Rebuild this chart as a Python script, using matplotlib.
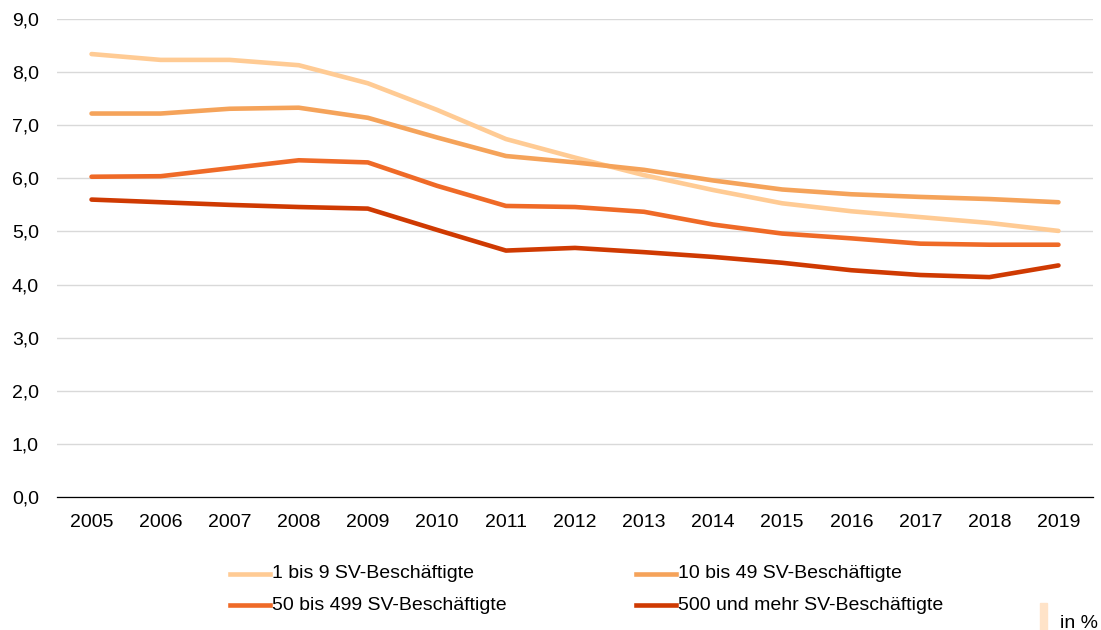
import matplotlib
matplotlib.use("Agg")
import matplotlib.pyplot as plt
from matplotlib.lines import Line2D
from matplotlib.patches import Rectangle

plt.rcParams['font.family'] = ['Liberation Sans', 'DejaVu Sans']

years = [str(y) for y in range(2005, 2020)]
labels = ["1 bis 9 SV-Beschäftigte", "10 bis 49 SV-Beschäftigte",
          "50 bis 499 SV-Beschäftigte", "500 und mehr SV-Beschäftigte"]
s1 = [8.34, 8.23, 8.23, 8.13, 7.79, 7.29, 6.74, 6.39, 6.06, 5.78, 5.53, 5.38, 5.27, 5.16, 5.01]
s2 = [7.22, 7.22, 7.31, 7.33, 7.14, 6.77, 6.42, 6.30, 6.16, 5.96, 5.79, 5.70, 5.65, 5.61, 5.55]
s3 = [6.03, 6.04, 6.19, 6.34, 6.30, 5.86, 5.48, 5.46, 5.37, 5.13, 4.96, 4.87, 4.77, 4.75, 4.75]
s4 = [5.60, 5.55, 5.50, 5.46, 5.43, 5.03, 4.64, 4.69, 4.61, 4.52, 4.41, 4.27, 4.18, 4.14, 4.36]
series = [s1, s2, s3, s4]
colors = ["#FFCB94", "#F5A35A", "#EF6A27", "#CF3A02"]
yticks = [0, 1, 2, 3, 4, 5, 6, 7, 8, 9]

fig = plt.figure(figsize=(11.01, 6.30), dpi=100)
ax = fig.add_axes([57/1101, 1 - 497/630, 1036/1101, (497 - 19)/630])

x = list(range(len(years)))
for s, c, lab in zip(series, colors, labels):
    ax.plot(x, s, color=c, lw=3.3, solid_capstyle='round', label=lab, zorder=3)

ax.set_xlim(-0.5, len(years) - 0.5)
ax.set_ylim(0, 9)
ax.set_yticks(yticks)
ax.set_yticklabels([f"{v:.1f}".replace(".", ",") for v in yticks])
ax.set_xticks(x)
ax.set_xticklabels(years)
ax.grid(axis='y', color='#D9D9D9', lw=1.0, zorder=0)
for sp in ['top', 'right', 'left']:
    ax.spines[sp].set_visible(False)
ax.spines['bottom'].set_color('#000000')
ax.spines['bottom'].set_linewidth(0.9)
ax.spines['bottom'].set_zorder(2)
ax.tick_params(axis='both', length=0, labelsize=14, colors='#000000')
ax.tick_params(axis='y', pad=13)
ax.tick_params(axis='x', pad=12)

# legend (manual placement)
pos = [(230, 574), (636, 574), (230, 605), (636, 605)]
for (px, py), c, lab in zip(pos, colors, labels):
    fy = 1 - py / 630
    fig.add_artist(Line2D([px/1101, (px + 40)/1101], [fy, fy], color=c, lw=3.3,
                          transform=fig.transFigure))
    fig.text((px + 42)/1101, fy, lab, fontsize=14, va='center', ha='left')

fig.add_artist(Rectangle((1040/1101, 0), 7/1101, 27/630, color='#FFE3C8',
                         transform=fig.transFigure))
fig.text(1060/1101, 1 - 623/630, "in %", fontsize=14, va='center', ha='left')

fig.savefig("out.png", dpi=100)
